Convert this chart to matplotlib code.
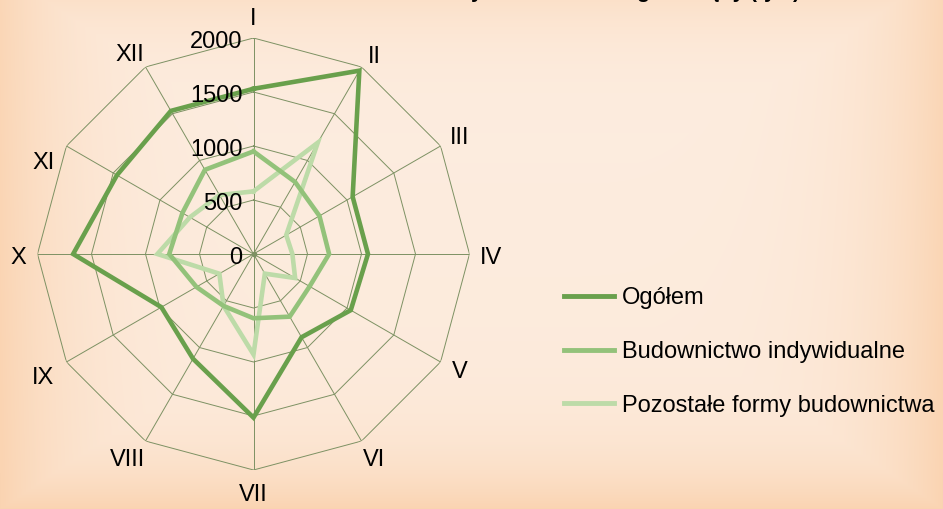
import numpy as np
import matplotlib
matplotlib.use('Agg')
import matplotlib.pyplot as plt
import matplotlib.transforms as mtransforms

plt.rcParams['font.family'] = ['Liberation Sans', 'DejaVu Sans']

# %%
months = ['I', 'II', 'III', 'IV', 'V', 'VI', 'VII', 'VIII', 'IX', 'X', 'XI', 'XII']
ogolem = [1530, 1960, 1060, 1060, 1040, 890, 1515, 1120, 985, 1670, 1460, 1530]
indywidualne = [950, 770, 705, 700, 600, 670, 595, 555, 610, 780, 760, 900]
pozostale = [580, 1190, 350, 360, 445, 210, 930, 555, 365, 890, 680, 630]
r_ticks = [0, 500, 1000, 1500, 2000]
r_max = 2000

series = [
    ('Ogółem', ogolem, '#69a04c'),
    ('Budownictwo indywidualne', indywidualne, '#93c27a'),
    ('Pozostałe formy budownictwa', pozostale, '#bddba8'),
]
grid_color = '#7d9163'
title = 'Mieszkania oddane do użytkowania według miesięcy (tys.)'

# label offsets from the spoke tips, in pixels (x right, y up)
label_off = [(0, 19), (13, 10), (19, 8), (21, -4), (19, -10), (13, -19),
             (0, -25), (-18, -19), (-23, -16), (-19, -4), (-23, -17), (-16, 12)]
fs = 17

# %%
W, H = 943, 509
fig = plt.figure(figsize=(W / 100, H / 100), dpi=100)

# background gradient
bg = fig.add_axes([0, 0, 1, 1])
yy, xx = np.mgrid[0:H, 0:W]
dx = np.abs(xx / W - 0.5) / 0.5
dy = np.abs(yy / H - 0.47) / 0.53
t = np.clip(np.maximum(dx ** 6, dy ** 5) * 0.9 + 0.12 * (yy / H), 0, 1)
c_in = np.array([253, 237, 224]) / 255
c_out = np.array([250, 212, 178]) / 255
img = c_in[None, None, :] * (1 - t[..., None]) + c_out[None, None, :] * t[..., None]
bg.imshow(img, aspect='auto', extent=[0, 1, 0, 1], origin='upper')
bg.axis('off')

# %%
cx, cy, rad = 253.5, 254, 216
ax = fig.add_axes([(cx - rad) / W, (H - cy - rad) / H, 2 * rad / W, 2 * rad / H], projection='polar')
ax.set_facecolor('none')
ax.set_theta_zero_location('N')
ax.set_theta_direction(-1)
ax.set_ylim(0, r_max)
ax.grid(False)
ax.spines['polar'].set_visible(False)
ax.set_xticks([])
ax.set_yticks([])

theta = np.linspace(0, 2 * np.pi, len(months), endpoint=False)
theta_c = np.append(theta, theta[0])

# polygon rings and spokes
for r in r_ticks[1:]:
    ax.plot(theta_c, [r] * len(theta_c), color=grid_color, lw=0.7, zorder=1)
for th in theta:
    ax.plot([th, th], [0, r_max], color=grid_color, lw=0.7, zorder=1)
ax.plot([0], [0], 'o', color=grid_color, ms=3, zorder=1)

# data
for name, vals, col in series[::-1]:
    ax.plot(theta_c, vals + vals[:1], color=col, lw=3.3, label=name, zorder=3,
            solid_joinstyle='miter')

# month labels
for th, m, (ox, oy) in zip(theta, months, label_off):
    tr = mtransforms.offset_copy(ax.transData, fig=fig, x=ox, y=oy, units='dots')
    ax.text(th, r_max, m, transform=tr, ha='center', va='center', fontsize=fs, color='black')

# radial tick labels
off = mtransforms.offset_copy(ax.transData, fig=fig, x=-11, y=-4, units='dots')
for r in r_ticks:
    ax.text(0, r, str(r), transform=off, ha='right', va='center', fontsize=fs,
            color='black', zorder=4)

# legend
handles, labels = ax.get_legend_handles_labels()
leg = fig.legend(handles[::-1], labels[::-1], loc='upper left', bbox_to_anchor=(555 / W, 1 - 278 / H),
                 frameon=False, fontsize=fs, handlelength=2.1, handletextpad=0.35,
                 labelspacing=1.34, borderaxespad=0)
for ln in leg.get_lines():
    ln.set_linewidth(3.5)

# title (only the lower part is visible)
fig.text(510 / W, 1 + 2 / H, title, ha='center', va='baseline', fontsize=15,
         fontweight='bold', color='black')

fig.savefig('out.png', dpi=100)
